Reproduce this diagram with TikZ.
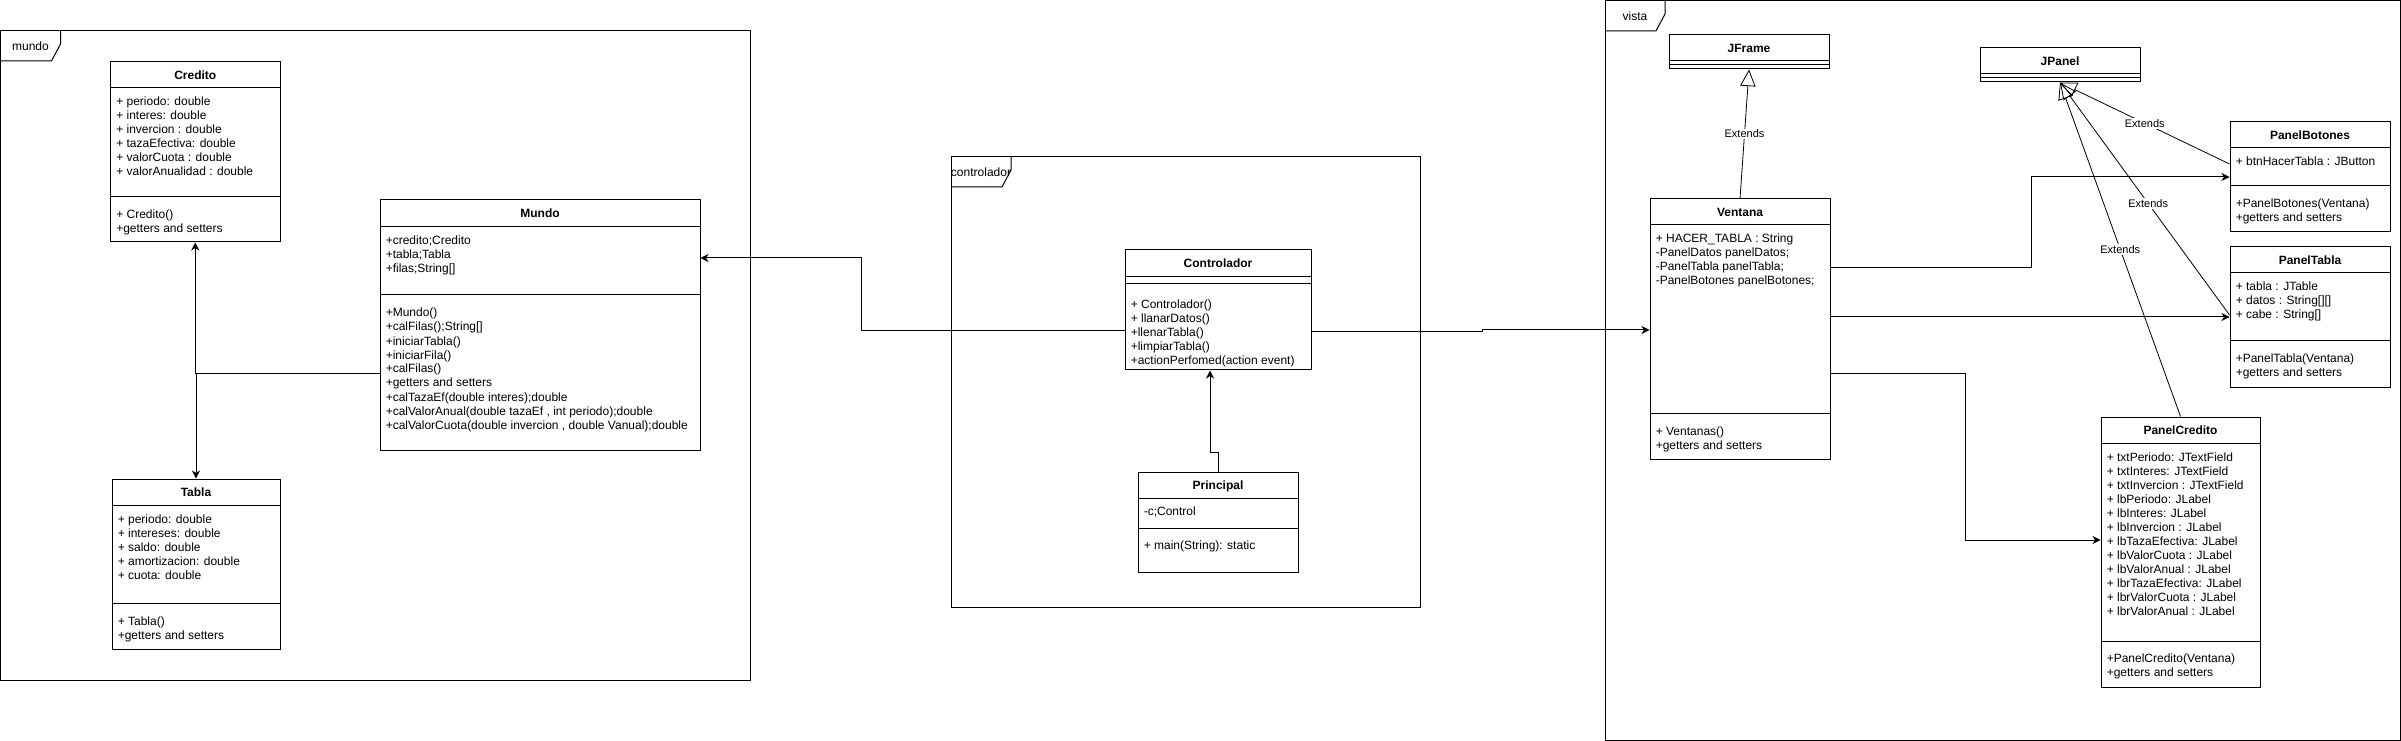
\documentclass[tikz,border=0pt]{standalone}
\usepackage{fontspec}
\setmainfont{Liberation Sans}
\usetikzlibrary{arrows.meta,positioning,fit,calc}
\newcommand{\dio}{\fontsize{9}{10.5}\selectfont}
\tikzset{
  frame/.style={draw, line width=0.75pt, inner sep=0pt},
  cls/.style={draw, fill=white, line width=0.75pt, inner sep=0pt},
  ttl/.style={anchor=base, inner sep=0pt, font=\dio\bfseries},
  mem/.style={anchor=base west, inner sep=0pt, font=\dio},
  tablbl/.style={anchor=base, inner sep=0pt, font=\dio},
  assoc/.style={-{Stealth[length=6pt,width=6pt,inset=1.8pt]}, line width=0.75pt},
  ext/.style={-{Triangle[open,length=12.5pt,width=11.5pt]}, line width=0.6pt},
  extlbl/.style={fill=white, inner sep=1pt, font=\fontsize{8.25}{10}\selectfont},
}
\newcommand{\paquete}[6]{%
  \node[frame, fit={(#2,#3) (#4,#5)}] (#1) {};
  \draw[line width=0.75pt] (#2+60,#3) -- (#2+60,#3+13) -- (#2+51,#3+30) -- (#2,#3+30);
  \node[tablbl] (#1-lbl) at (#2+30,#3+19.5) {#6};}
\newcommand{\umlclass}[7]{%
  \node[cls, fit={(#2,#3) (#4,#5)}] (#1) {};
  \node[ttl] (#1-t) at ({(#2+#4)/2},#3+17.3) {#6};
  \foreach \s in {#7} \draw[line width=0.75pt] (#2,\s) -- (#4,\s);}
\newcommand{\members}[4]{%
  \foreach \m [count=\i from 0] in {#4}
    \node[mem] (#1\i) at (#2+5.5,#3+4.3+14*\i) {\m};}

\begin{document}
\begin{tikzpicture}[x=0.75pt,y=-0.75pt]
  \useasboundingbox (0,0) rectangle (2401,741);
  \paquete{pkg-mundo}{0.5}{31}{750}{680}{mundo}
  \paquete{pkg-ctrl}{951}{157}{1420}{607}{controlador}
  \paquete{pkg-vista}{1605}{1}{2400}{740}{vista}

  \umlclass{credito}{110.5}{62}{280}{242}{Credito}{88,197}
  \members{credito-a}{110.5}{101.7}{+ periodo: double, + interes: double, + invercion : double, + tazaEfectiva: double, + valorCuota : double, + valorAnualidad : double}
  \members{credito-m}{110.5}{214}{+ Credito(), +getters and setters}

  \umlclass{mundo}{380}{200}{700}{450}{Mundo}{227,295}
  \members{mundo-a}{380}{240.7}{+credito;Credito, +tabla;Tabla, +filas;String[]}
  \members{mundo-m}{380}{312.7}{+Mundo(), +calFilas();String[], +iniciarTabla(), +iniciarFila(), +calFilas(), +getters and setters, +calTazaEf(double interes);double, {+calValorAnual(double tazaEf , int periodo);double}, {+calValorCuota(double invercion , double Vanual);double}}

  \umlclass{tabla}{112}{479}{280}{649}{Tabla}{505,603}
  \members{tabla-a}{112}{518.7}{+ periodo: double, + intereses: double, + saldo: double, + amortizacion: double, + cuota: double}
  \members{tabla-m}{112}{620.7}{+ Tabla(), +getters and setters}

  \umlclass{controlador}{1125}{250}{1311}{370}{Controlador}{277,284}
  \members{controlador-m}{1125}{304.3}{+ Controlador(), + llanarDatos(), +llenarTabla(), +limpiarTabla(), +actionPerfomed(action event)}

  \umlclass{principal}{1138}{472}{1298}{572}{Principal}{498,528}
  \members{principal-a}{1138}{511.3}{-c;Control}
  \members{principal-m}{1138}{545.3}{+ main(String): static}

  \umlclass{jframe}{1669}{35}{1829}{69}{JFrame}{61,65}
  \umlclass{jpanel}{1980}{48}{2140}{82}{JPanel}{74,78}

  \umlclass{ventana}{1650}{199}{1830}{459}{Ventana}{225,413}
  \members{ventana-a}{1650}{238.7}{+ HACER\_TABLA : String, -PanelDatos panelDatos;, -PanelTabla panelTabla;, -PanelBotones panelBotones;}
  \members{ventana-m}{1650}{430.7}{+ Ventanas(), +getters and setters}

  \umlclass{pbotones}{2230}{122}{2390}{232}{PanelBotones}{148,186}
  \members{pbotones-a}{2230}{161.7}{+ btnHacerTabla : JButton}
  \members{pbotones-m}{2230}{203.3}{+PanelBotones(Ventana), +getters and setters}

  \umlclass{ptabla}{2230}{247}{2390}{387}{PanelTabla}{273,341}
  \members{ptabla-a}{2230}{286.7}{+ tabla : JTable, + datos : String[][], + cabe : String[]}
  \members{ptabla-m}{2230}{358.7}{+PanelTabla(Ventana), +getters and setters}

  \umlclass{pcredito}{2101}{417}{2260}{687}{PanelCredito}{443,641}
  \members{pcredito-a}{2101}{456.7}{+ txtPeriodo: JTextField, + txtInteres: JTextField, + txtInvercion : JTextField, + lbPeriodo: JLabel, + lbInteres: JLabel, + lbInvercion : JLabel, + lbTazaEfectiva: JLabel, + lbValorCuota : JLabel, + lbValorAnual : JLabel, + lbrTazaEfectiva: JLabel, + lbrValorCuota : JLabel, + lbrValorAnual : JLabel}
  \members{pcredito-m}{2101}{658.3}{+PanelCredito(Ventana), +getters and setters}

  \draw[assoc] (mundo.west |- 0,374) -| (credito.south);
  \draw[assoc] (mundo.west |- 0,374) -| (tabla.north);
  \draw[assoc] (controlador.west |- 0,331) -- (861,331) |- (mundo.east |- 0,258);
  \draw[assoc] (principal.north) -- (1218,452) -- (1210,452) -- (controlador.south -| 1210,0);
  \draw[assoc] (controlador.east |- 0,332) -- (1482,332) -- (1482,330) -- (ventana.west |- 0,330);
  \draw[assoc] (ventana.east |- 0,268) -| (2031,177) -- (pbotones.west |- 0,177);
  \draw[assoc] (ventana.east |- 0,317) -- (ptabla.west |- 0,317);
  \draw[assoc] (ventana.east |- 0,374) -- (1965,374) |- (pcredito.west |- 0,540);

  \draw[ext] (ventana.north) -- node[extlbl] (ext-jframe) {Extends} (jframe.south);
  \draw[ext] (pbotones.west |- 0,164) -- node[extlbl] (ext-pbotones) {Extends} (jpanel.south);
  \draw[ext] (ptabla.west |- 0,315) -- node[extlbl, pos=0.48] (ext-ptabla) {Extends} (jpanel.south);
  \draw[ext] (pcredito.north) -- node[extlbl] (ext-pcredito) {Extends} (jpanel.south);
\end{tikzpicture}
\end{document}
